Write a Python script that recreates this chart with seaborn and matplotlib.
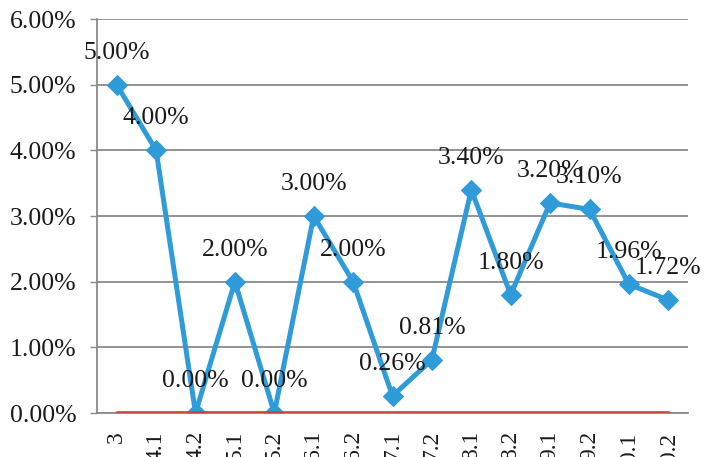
import matplotlib
matplotlib.use("Agg")
import matplotlib.pyplot as plt
from matplotlib.ticker import FixedLocator, PercentFormatter
import pandas as pd
import seaborn as sns

# data
periods = ['3', '4.1', '4.2', '5.1', '5.2', '6.1', '6.2', '7.1', '7.2',
           '8.1', '8.2', '9.1', '9.2', '10.1', '10.2']
rates = [5.00, 4.00, 0.00, 2.00, 0.00, 3.00, 2.00, 0.26, 0.81,
         3.40, 1.80, 3.20, 3.10, 1.96, 1.72]
baseline = [0.0] * len(periods)

BLUE = '#2f9bd9'
RED = '#cc473b'
GRID = '#8a8a8a'

sns.set_style('white')
plt.rcParams['font.family'] = ['Liberation Serif', 'DejaVu Serif']

df = pd.DataFrame({'pos': range(len(periods)), 'period': periods,
                   'rate': rates, 'base': baseline})

fig = plt.figure(figsize=(7.05, 4.57), dpi=100)
ax = fig.add_axes([97 / 705, 44 / 457, 591 / 705, 394 / 457])

sns.lineplot(data=df, x='pos', y='rate', sort=False, ax=ax, color=BLUE,
             lw=3.6, marker='D', ms=10, mec=BLUE, mfc=BLUE, zorder=3)
sns.lineplot(data=df, x='pos', y='base', sort=False, ax=ax, color=RED,
             lw=3.4, zorder=4)

for x, y in zip(df.pos, df.rate):
    ax.annotate('{:.2f}%'.format(y), (x, y), xytext=(0, 23),
                textcoords='offset points', ha='center', va='center',
                fontsize=18.5, color='#1a1a1a', zorder=5)

ax.set_xlim(-0.5, len(periods) - 0.5)
ax.set_ylim(0, 6)
ax.yaxis.set_major_locator(FixedLocator([0, 1, 2, 3, 4, 5, 6]))
ax.yaxis.set_major_formatter(PercentFormatter(decimals=2))
ax.grid(axis='y', color=GRID, lw=1.3)
ax.set_axisbelow(True)

ax.set_xticks(df.pos)
ax.set_xticklabels(periods, rotation=90, va='top')
ax.set_xticks([p - 0.5 for p in range(len(periods) + 1)], minor=True)
ax.tick_params(axis='x', which='major', length=0, pad=13, labelsize=17,
               colors='#1a1a1a')
ax.tick_params(axis='x', which='minor', length=5, width=1, color=GRID,
               direction='out')
ax.tick_params(axis='y', length=5, width=1, color=GRID, pad=10,
               labelsize=18.5, labelcolor='#1a1a1a', left=True)

for side in ['top', 'right']:
    ax.spines[side].set_visible(False)
for side in ['left', 'bottom']:
    ax.spines[side].set_color(GRID)
    ax.spines[side].set_linewidth(1.3)

ax.set_xlabel('')
ax.set_ylabel('')

fig.savefig('out.png', dpi=100)
